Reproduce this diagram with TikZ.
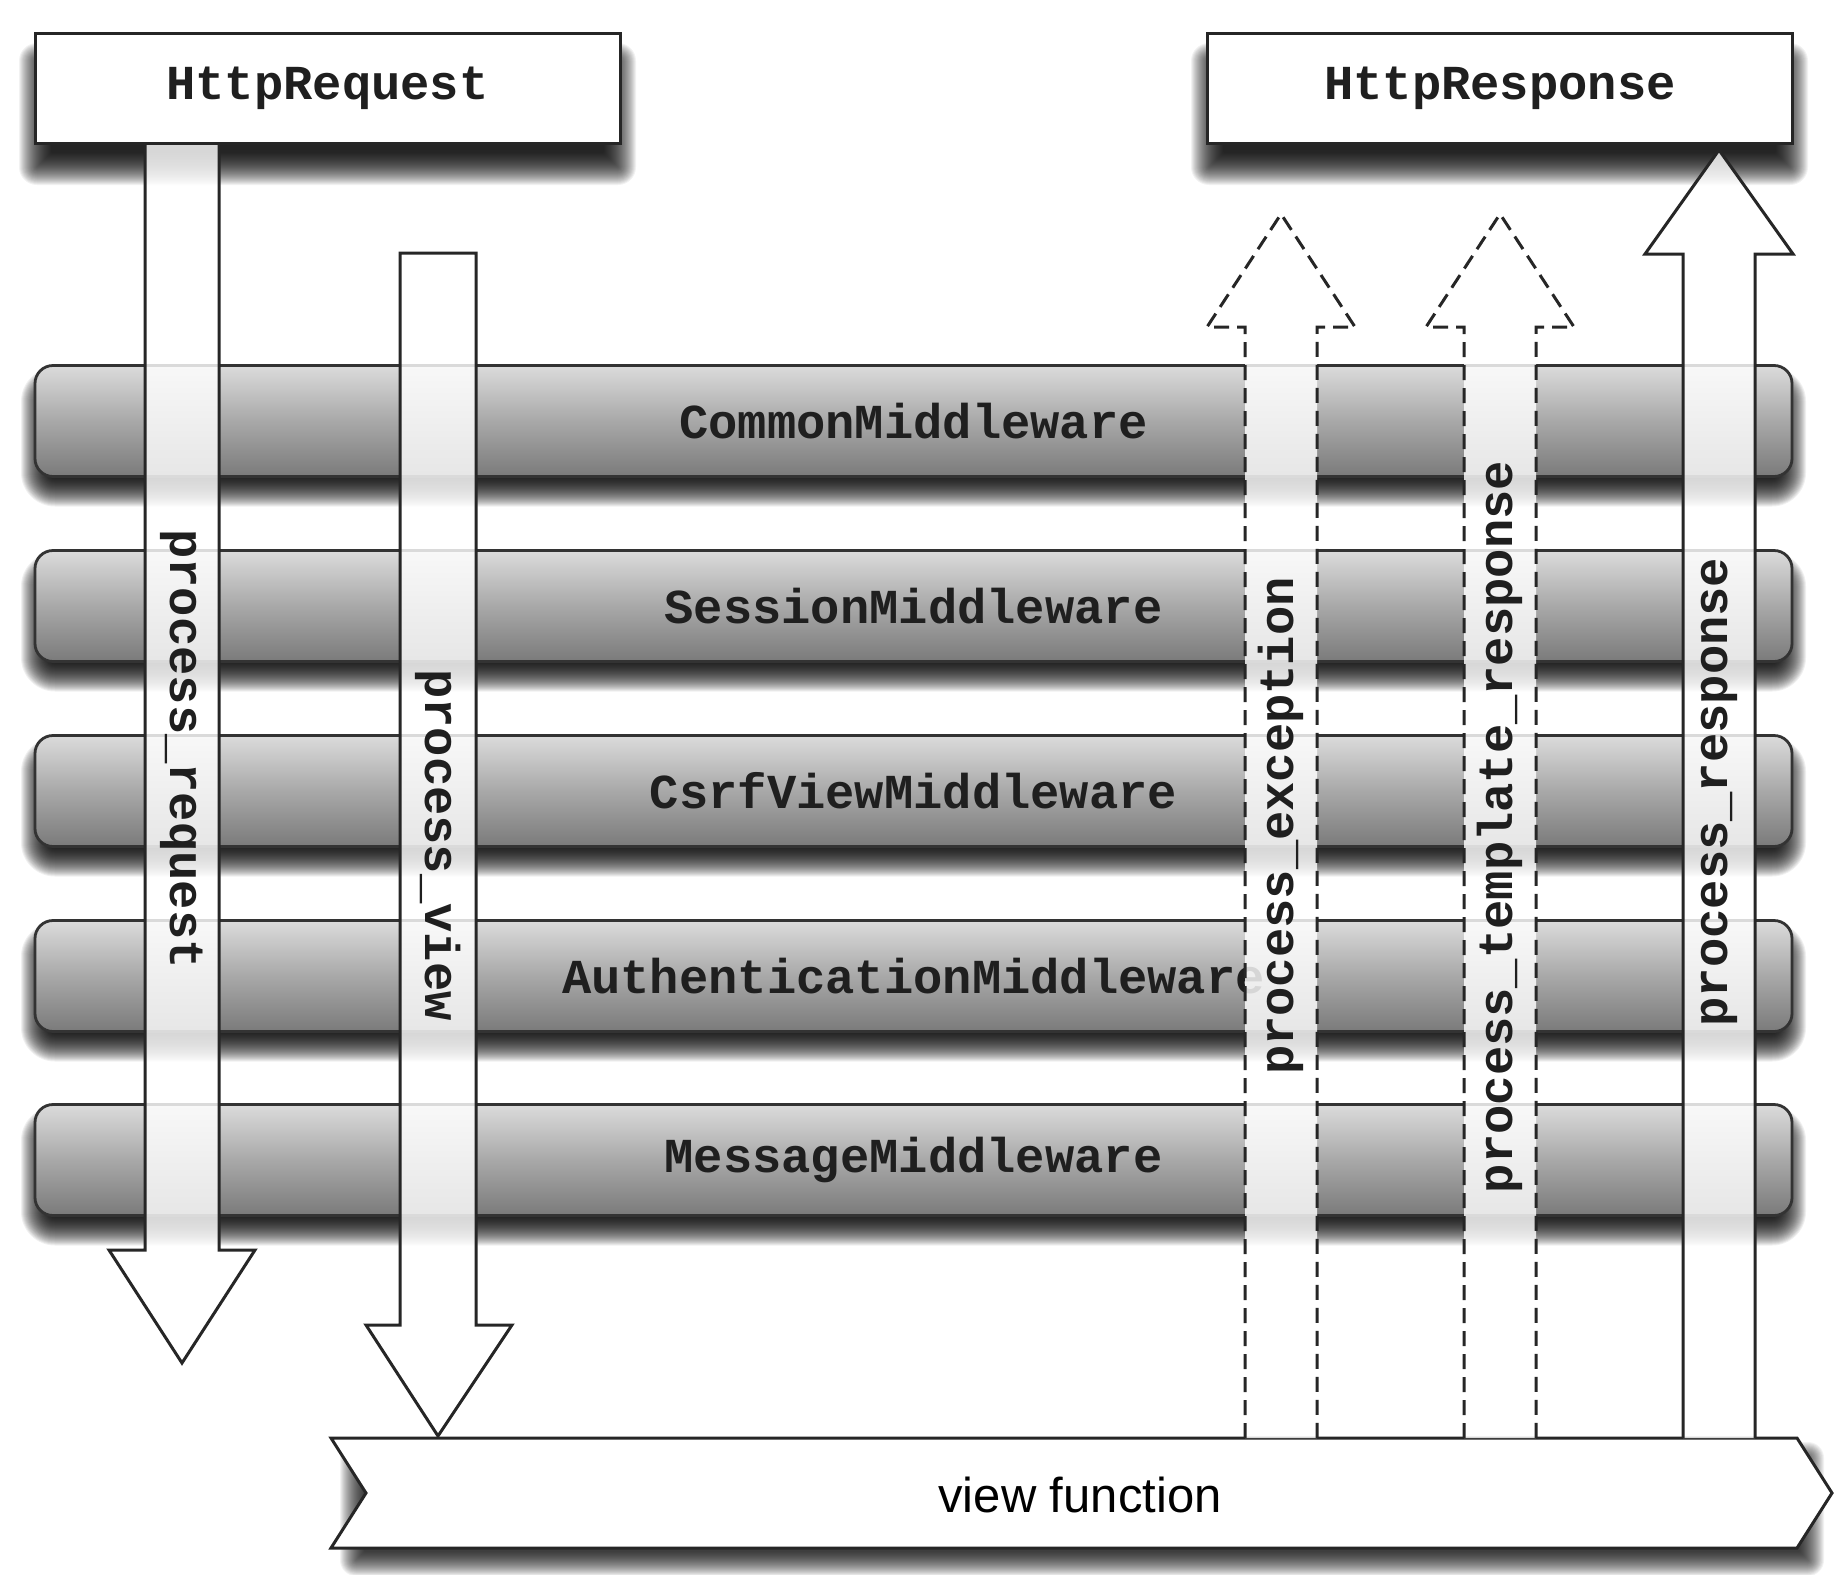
\documentclass[tikz,border=0pt]{standalone}
\usepackage{fontspec}
\setmonofont{Liberation Mono}
\setsansfont{Liberation Sans}
% #1 x1, #2 y1, #3 x2, #4 y2, #5 radius(px), #6 spread(px), #7 opacity
\newcommand\blurshadow[7]{%
  \pgfmathtruncatemacro\nn{2*#6}%
  \foreach \k in {0,...,\nn}{%
    \pgfmathsetmacro\ins{\k-#6}%
    \pgfmathsetmacro\rr{max(1,#5-\ins)*0.5}%
    \fill[black, opacity=#7, rounded corners=\rr pt] (#1+\ins,#2+\ins) rectangle (#3-\ins,#4-\ins);
  }}
\begin{document}
\begin{tikzpicture}[x=0.5pt,y=-0.5pt,
  lbl/.style={font=\ttfamily\bfseries\fontsize{24.4}{28}\selectfont, text=black!88, inner sep=0pt},
  box/.style={lbl, draw=black!85, line width=1.5pt, fill=white, minimum width=292.5pt, minimum height=55pt},
  bar/.style={lbl, draw=black!80, line width=1.4pt, rounded corners=9pt, top color=black!14, bottom color=black!52, middle color=black!34, minimum width=878.5pt, minimum height=55.5pt},
  arrowline/.style={draw=black!85, line width=1.5pt, line join=miter},
  arrowfill/.style={fill=white, fill opacity=0.82},
  dashline/.style={arrowline, dash pattern=on 7.5pt off 4pt},
]
\useasboundingbox (0,0) rectangle (1834,1574);
\fill[white] (0,0) rectangle (1834,1574);

% shadows
\blurshadow{35}{33+26}{620}{143+26}{2}{16}{0.05}
\blurshadow{1207}{33+26}{1792}{143+26}{2}{16}{0.05}
\foreach \yc in {421,606,791,976,1160}{
  \blurshadow{35}{\yc-55.5+16}{1792}{\yc+55.5+16}{20}{14}{0.06}
}
\blurshadow{352}{1438+16}{1812}{1548+16}{4}{12}{0.05}

% middleware bars
\node[bar] (common) at (913.5,421) {CommonMiddleware};
\node[bar] (session) at (913.5,606) {SessionMiddleware};
\node[bar] (csrf) at (913.5,791) {CsrfViewMiddleware};
\node[bar] (auth) at (913.5,976) {AuthenticationMiddleware};
\node[bar] (message) at (913.5,1160) {MessageMiddleware};

% view function
\draw[fill=white, draw=black!85, line width=1.5pt, line join=miter]
  (331,1438) -- (1797,1438) -- (1832,1493) -- (1797,1548) -- (331,1548) -- (366,1493) -- cycle;
\node[font=\sffamily\fontsize{24.5}{28}\selectfont, inner sep=0pt] (view) at (1080,1495) {view function};

% process_request
\fill[arrowfill] (145,143) -- (145,1250) -- (109,1250) -- (182,1363) -- (255,1250) -- (219,1250) -- (219,143) -- cycle;
\draw[arrowline] (145,143) -- (145,1250) -- (109,1250) -- (182,1363) -- (255,1250) -- (219,1250) -- (219,143);
% process_view
\fill[arrowfill] (400,253) -- (400,1325) -- (366,1325) -- (438,1436) -- (512,1325) -- (476,1325) -- (476,253) -- cycle;
\draw[arrowline] (400,253) -- (400,1325) -- (366,1325) -- (438,1436) -- (512,1325) -- (476,1325) -- (476,253) -- cycle;
% process_exception
\fill[arrowfill] (1245,1438) -- (1245,327) -- (1207,327) -- (1281,214) -- (1355,327) -- (1317,327) -- (1317,1438) -- cycle;
\draw[dashline] (1245,1438) -- (1245,327) -- (1207,327) -- (1281,214) -- (1355,327) -- (1317,327) -- (1317,1438);
% process_template_response
\fill[arrowfill] (1464,1438) -- (1464,327) -- (1426,327) -- (1500,214) -- (1574,327) -- (1536,327) -- (1536,1438) -- cycle;
\draw[dashline] (1464,1438) -- (1464,327) -- (1426,327) -- (1500,214) -- (1574,327) -- (1536,327) -- (1536,1438);
% process_response
\fill[arrowfill] (1683,1438) -- (1683,254) -- (1645,254) -- (1719,150) -- (1793,254) -- (1755,254) -- (1755,1438) -- cycle;
\draw[arrowline] (1683,1438) -- (1683,254) -- (1645,254) -- (1719,150) -- (1793,254) -- (1755,254) -- (1755,1438);

% arrow labels
\node[lbl, rotate=-90] (preq) at (182,749) {process\_request};
\node[lbl, rotate=-90] (pview) at (438,845) {process\_view};
\node[lbl, rotate=90] (pexc) at (1281,826) {process\_exception};
\node[lbl, rotate=90] (ptpl) at (1500,827) {process\_template\_response};
\node[lbl, rotate=90] (presp) at (1719,792) {process\_response};

% boxes
\node[box] (req) at (327.5,88) {HttpRequest};
\node[box] (resp) at (1500,88) {HttpResponse};
\end{tikzpicture}
\end{document}
